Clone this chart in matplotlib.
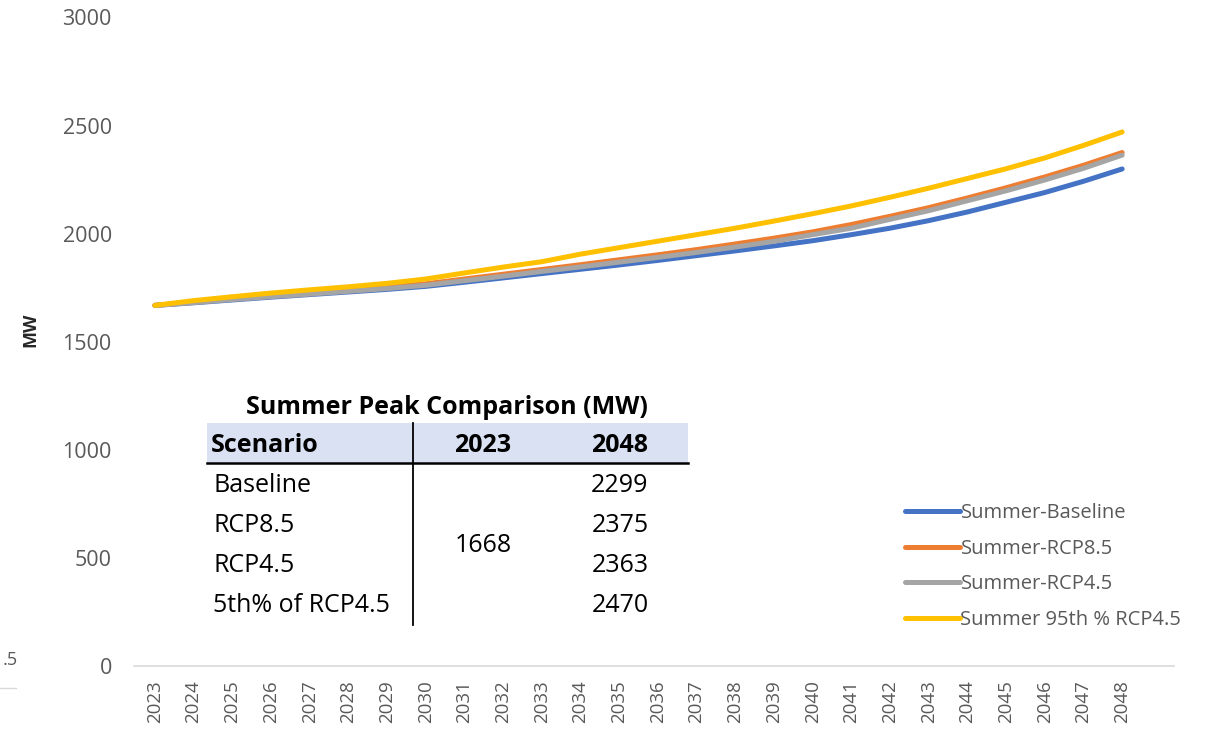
import matplotlib
matplotlib.use("Agg")
import matplotlib.pyplot as plt
from matplotlib.patches import Rectangle
from matplotlib.lines import Line2D

# ---- data -------------------------------------------------------------
years = list(range(2023, 2049))

summer_baseline = [1668, 1680, 1693, 1706, 1718, 1730, 1742, 1756, 1775, 1795,
                   1815, 1835, 1855, 1876, 1898, 1920, 1943, 1967, 1995, 2025,
                   2060, 2100, 2145, 2190, 2242, 2299]
summer_rcp85 = [1668, 1683, 1698, 1712, 1725, 1738, 1752, 1768, 1790, 1812,
                1834, 1856, 1879, 1902, 1926, 1952, 1979, 2008, 2042, 2080,
                2120, 2165, 2212, 2262, 2316, 2375]
summer_rcp45 = [1668, 1681, 1695, 1708, 1720, 1733, 1746, 1761, 1782, 1803,
                1825, 1846, 1868, 1890, 1913, 1938, 1964, 1995, 2025, 2066,
                2106, 2152, 2198, 2248, 2302, 2363]
summer_95th_rcp45 = [1668, 1690, 1708, 1725, 1740, 1754, 1770, 1790, 1818, 1845,
                     1870, 1905, 1935, 1965, 1995, 2025, 2058, 2092, 2128, 2168,
                     2210, 2255, 2300, 2350, 2408, 2470]

series_names = ["Summer-Baseline", "Summer-RCP8.5", "Summer-RCP4.5",
                "Summer 95th % RCP4.5"]
series_values = [summer_baseline, summer_rcp85, summer_rcp45, summer_95th_rcp45]
series_colors = ["#4472C4", "#ED7D31", "#A5A5A5", "#FFC000"]

table_title = "Summer Peak Comparison (MW)"
table_header = ["Scenario", "2023", "2048"]
table_scenarios = ["Baseline", "RCP8.5", "RCP4.5", "5th% of RCP4.5"]

y_ticks = [0, 500, 1000, 1500, 2000, 2500, 3000]

# ---- figure -----------------------------------------------------------
W, H = 1217, 743
fig = plt.figure(figsize=(W / 100, H / 100), dpi=100)
fig.patch.set_facecolor("white")

TICK_GRAY = "#595959"
AX_FONT = ["Open Sans", "DejaVu Sans"]
TB_FONT = ["Open Sans", "DejaVu Sans"]
TB_SIZE = 18


def px(x, y):
    """Pixel position (from top-left) to figure fraction."""
    return x / W, 1 - y / H


ax = fig.add_axes([134 / W, 1 - 666 / H, (1174 - 134) / W, (666 - 17.4) / H])
for col, vals, name in zip(series_colors, series_values, series_names):
    ax.plot(years, vals, color=col, lw=3.6, solid_capstyle="round", label=name)

ax.set_ylim(0, 3000)
ax.set_xlim(2022.46, 2049.34)
ax.set_yticks(y_ticks)
ax.set_xticks(years)
ax.set_xticklabels([str(y) for y in years], rotation=90)
ax.tick_params(axis="both", length=0, colors=TICK_GRAY)
ax.tick_params(axis="y", pad=16, labelsize=15.5)
ax.tick_params(axis="x", pad=10, labelsize=13.5)
for lbl in ax.get_xticklabels() + ax.get_yticklabels():
    lbl.set_family(AX_FONT)
for s in ("top", "right", "left"):
    ax.spines[s].set_visible(False)
ax.spines["bottom"].set_color("#D9D9D9")
ax.spines["bottom"].set_linewidth(1.2)

fig.text(*px(30, 330), "MW", rotation=90, ha="center", va="center",
         fontsize=13, fontweight="bold", color="#262626", family=AX_FONT)

# ---- legend -----------------------------------------------------------
leg = ax.legend(loc="upper left", bbox_to_anchor=((897 - 134) / 1040, (666 - 495) / 648.6),
                frameon=False, handlelength=2.75, handletextpad=0.0,
                labelspacing=0.78, borderaxespad=0,
                prop={"family": AX_FONT, "size": 14.5})
for t in leg.get_texts():
    t.set_color(TICK_GRAY)
for h in leg.get_lines():
    h.set_linewidth(3.6)

# ---- comparison table -------------------------------------------------
start_value = series_values[0][0]
end_values = [v[-1] for v in series_values]

x0, x1 = 207, 688
fig.add_artist(Rectangle(px(x0, 463), (x1 - x0) / W, 40 / H,
                         transform=fig.transFigure, facecolor="#D9E1F2",
                         edgecolor="none", zorder=3))
fig.add_artist(Line2D([x0 / W, x1 / W], [1 - 463 / H] * 2,
                      transform=fig.transFigure, color="black", lw=1.8, zorder=4))
fig.add_artist(Line2D([413 / W, 413 / W], [1 - 423 / H, 1 - 625 / H],
                      transform=fig.transFigure, color="black", lw=1.3, zorder=4))

fig.text(*px(447, 407), table_title, ha="center", va="center", fontsize=TB_SIZE,
         fontweight="bold", family=TB_FONT, color="black", zorder=5)
fig.text(*px(211, 445), table_header[0], ha="left", va="center", fontsize=TB_SIZE,
         fontweight="bold", family=TB_FONT, zorder=5)
fig.text(*px(483, 445), table_header[1], ha="center", va="center", fontsize=TB_SIZE,
         fontweight="bold", family=TB_FONT, zorder=5)
fig.text(*px(620, 445), table_header[2], ha="center", va="center", fontsize=TB_SIZE,
         fontweight="bold", family=TB_FONT, zorder=5)

row_y = [486, 526, 566, 606]
for yy, name, val in zip(row_y, table_scenarios, end_values):
    fig.text(*px(213, yy), name, ha="left", va="center", fontsize=TB_SIZE,
             family=TB_FONT, zorder=5)
    fig.text(*px(620, yy), f"{val}", ha="center", va="center", fontsize=TB_SIZE,
             family=TB_FONT, zorder=5)
fig.text(*px(483, 545), f"{start_value}", ha="center", va="center", fontsize=TB_SIZE,
         family=TB_FONT, zorder=5)

# ---- neighbouring panel edge ------------------------------------------
fig.text(*px(10, 660), ".5", ha="center", va="center", fontsize=13,
         color=TICK_GRAY, family=AX_FONT)
fig.add_artist(Line2D([0, 16 / W], [1 - 688 / H] * 2,
                      transform=fig.transFigure, color="#D9D9D9", lw=1))

fig.savefig("out.png", dpi=100, facecolor="white")
